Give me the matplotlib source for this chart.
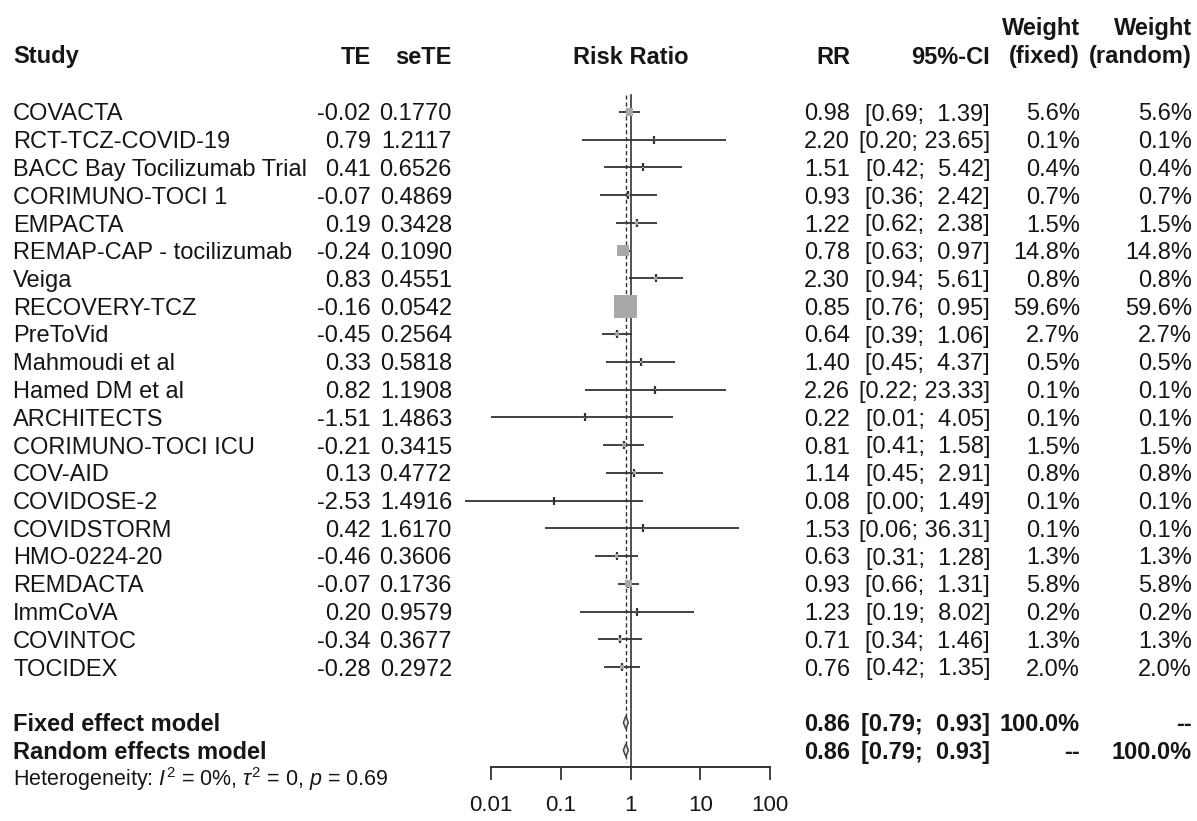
import numpy as np
import matplotlib
matplotlib.use("Agg")
import matplotlib.pyplot as plt
from matplotlib.patches import Polygon

# ---- study data -------------------------------------------------------------
studies = ["COVACTA", "RCT-TCZ-COVID-19", "BACC Bay Tocilizumab Trial",
           "CORIMUNO-TOCI 1", "EMPACTA", "REMAP-CAP - tocilizumab", "Veiga",
           "RECOVERY-TCZ", "PreToVid", "Mahmoudi et al", "Hamed DM et al",
           "ARCHITECTS", "CORIMUNO-TOCI ICU", "COV-AID", "COVIDOSE-2",
           "COVIDSTORM", "HMO-0224-20", "REMDACTA", "ImmCoVA", "COVINTOC",
           "TOCIDEX"]
te = [-0.02, 0.79, 0.41, -0.07, 0.19, -0.24, 0.83, -0.16, -0.45, 0.33, 0.82,
      -1.51, -0.21, 0.13, -2.53, 0.42, -0.46, -0.07, 0.20, -0.34, -0.28]
se_te = [0.1770, 1.2117, 0.6526, 0.4869, 0.3428, 0.1090, 0.4551, 0.0542,
         0.2564, 0.5818, 1.1908, 1.4863, 0.3415, 0.4772, 1.4916, 1.6170,
         0.3606, 0.1736, 0.9579, 0.3677, 0.2972]
rr = [0.98, 2.20, 1.51, 0.93, 1.22, 0.78, 2.30, 0.85, 0.64, 1.40, 2.26, 0.22,
      0.81, 1.14, 0.08, 1.53, 0.63, 0.93, 1.23, 0.71, 0.76]
ci_low = [0.69, 0.20, 0.42, 0.36, 0.62, 0.63, 0.94, 0.76, 0.39, 0.45, 0.22,
          0.01, 0.41, 0.45, 0.00, 0.06, 0.31, 0.66, 0.19, 0.34, 0.42]
ci_high = [1.39, 23.65, 5.42, 2.42, 2.38, 0.97, 5.61, 0.95, 1.06, 4.37, 23.33,
           4.05, 1.58, 2.91, 1.49, 36.31, 1.28, 1.31, 8.02, 1.46, 1.35]
w_fixed = [5.6, 0.1, 0.4, 0.7, 1.5, 14.8, 0.8, 59.6, 2.7, 0.5, 0.1, 0.1, 1.5,
           0.8, 0.1, 0.1, 1.3, 5.8, 0.2, 1.3, 2.0]
w_random = [5.6, 0.1, 0.4, 0.7, 1.5, 14.8, 0.8, 59.6, 2.7, 0.5, 0.1, 0.1, 1.5,
            0.8, 0.1, 0.1, 1.3, 5.8, 0.2, 1.3, 2.0]

# pooled estimates
model_names = ["Fixed effect model", "Random effects model"]
model_rr = [0.86, 0.86]
model_low = [0.79, 0.79]
model_high = [0.93, 0.93]
model_w_fixed = ["100.0%", "--"]
model_w_random = ["--", "100.0%"]
het_text = r"Heterogeneity: $I^2$ = 0%, $\tau^2$ = 0, $p$ = 0.69"

x_ticks = [0.01, 0.1, 1, 10, 100]
x_tick_labels = ["0.01", "0.1", "1", "10", "100"]

# ---- figure ------------------------------------------------------------------
plt.rcParams["font.family"] = ["Liberation Sans", "DejaVu Sans"]
plt.rcParams["mathtext.fontset"] = "custom"
plt.rcParams["mathtext.rm"] = "Liberation Sans"
plt.rcParams["mathtext.it"] = "Liberation Sans:italic"

W, H = 1197, 821
fig = plt.figure(figsize=(W / 100, H / 100), dpi=100)
fig.patch.set_facecolor("white")

FS = 17
TXT = "#161616"
LINE = "#333333"

# text layer in pixel units
tax = fig.add_axes([0, 0, 1, 1])
tax.set_xlim(0, W)
tax.set_ylim(H, 0)
tax.axis("off")

row0, step = 112, 27.75
ys = row0 + step * np.arange(len(studies))
y_models = [row0 + step * 22, row0 + step * 23]
y_het = row0 + step * 24


def base(size):
    return 0.36 * size * 100 / 72  # baseline offset from row centre


# column anchors (pixels)
X_STUDY, X_TE, X_SE = 13, 371, 452
X_RR, X_CI, X_WF, X_WR = 850, 990, 1080, 1192
X_AX0, X_AX1, Y_AX = 491, 770, 767


def put(x, y, s, ha="right", bold=False, size=FS):
    tax.text(x, y + base(size), s, ha=ha, va="baseline", fontsize=size,
             color=TXT, fontweight="bold" if bold else "normal")


# header
y_h2, y_h1 = 55, 27
put(X_STUDY, y_h2, "Study", ha="left", bold=True)
put(X_TE, y_h2, "TE", bold=True)
put(X_SE, y_h2, "seTE", bold=True)
put((X_AX0 + X_AX1) / 2, y_h2, "Risk Ratio", ha="center", bold=True)
put(X_RR, y_h2, "RR", bold=True)
put(X_CI, y_h2, "95%-CI", bold=True)
put(X_WF, y_h1, "Weight", bold=True)
put(X_WF, y_h2, "(fixed)", bold=True)
put(X_WR, y_h1, "Weight", bold=True)
put(X_WR, y_h2, "(random)", bold=True)


def ci_str(lo, hi):
    return "[{:.2f}; {:>5}]".format(lo, "{:.2f}".format(hi))


for i, name in enumerate(studies):
    y = ys[i]
    put(X_STUDY, y, name, ha="left")
    put(X_TE, y, "{:.2f}".format(te[i]))
    put(X_SE, y, "{:.4f}".format(se_te[i]))
    put(X_RR, y, "{:.2f}".format(rr[i]))
    put(X_CI, y, ci_str(ci_low[i], ci_high[i]))
    put(X_WF, y, "{:.1f}%".format(w_fixed[i]))
    put(X_WR, y, "{:.1f}%".format(w_random[i]))

for k, name in enumerate(model_names):
    y = y_models[k]
    put(X_STUDY, y, name, ha="left", bold=True)
    put(X_RR, y, "{:.2f}".format(model_rr[k]), bold=True)
    put(X_CI, y, ci_str(model_low[k], model_high[k]), bold=True)
    put(X_WF, y, model_w_fixed[k], bold=True)
    put(X_WR, y, model_w_random[k], bold=True)

put(X_STUDY, y_het, het_text, ha="left", size=15.5)

# ---- forest panel (log scale) -----------------------------------------------
fx = fig.add_axes([X_AX0 / W, (H - Y_AX) / H, (X_AX1 - X_AX0) / W, Y_AX / H])
fx.set_facecolor("none")
fx.set_xscale("log")
fx.set_xlim(x_ticks[0], x_ticks[-1])
fx.set_ylim(Y_AX, 0)
for s in ("top", "left", "right"):
    fx.spines[s].set_visible(False)
fx.spines["bottom"].set_linewidth(1.4)
fx.spines["bottom"].set_color(LINE)
fx.set_yticks([])
fx.set_xticks(x_ticks)
fx.set_xticklabels(x_tick_labels)
fx.minorticks_off()
fx.tick_params(axis="x", direction="out", length=9.5, width=1.3, color=LINE,
               labelsize=16, labelcolor=TXT, pad=11)

# reference lines: no effect and pooled estimate
fx.plot([1, 1], [95, Y_AX], color=LINE, lw=1.2, zorder=1)
fx.plot([model_rr[0]] * 2, [95, Y_AX - 5], color=LINE, lw=1.0,
        ls=(0, (3, 2)), zorder=1)

low_arr = np.array(ci_low)
te_arr = np.array(te)
se_arr = np.array(se_te)
low_draw = np.where(low_arr > 0, low_arr, np.exp(te_arr - 1.96 * se_arr))

for i in range(len(studies)):
    fx.plot([low_draw[i], ci_high[i]], [ys[i], ys[i]], color=LINE, lw=1.3,
            solid_capstyle="butt", clip_on=False, zorder=2)

fx.plot(rr, ys, ls="none", marker="|", ms=5.5, mew=1.6, color=LINE,
        zorder=3, clip_on=False)

side_px = 23 * np.sqrt(np.array(w_fixed) / max(w_fixed))
fx.scatter(rr, ys, s=(side_px * 0.72) ** 2, marker="s", color="#a8a8a8",
           linewidths=0, zorder=4, clip_on=False)

for k in range(len(model_names)):
    y = y_models[k]
    diamond = Polygon([(model_low[k], y), (model_rr[k], y - 6.5),
                       (model_high[k], y), (model_rr[k], y + 6.5)],
                      closed=True, facecolor="#e6e6e6", edgecolor="#444444",
                      lw=1.1, zorder=4)
    fx.add_patch(diamond)

fig.savefig("out.png", dpi=100, facecolor="white")
